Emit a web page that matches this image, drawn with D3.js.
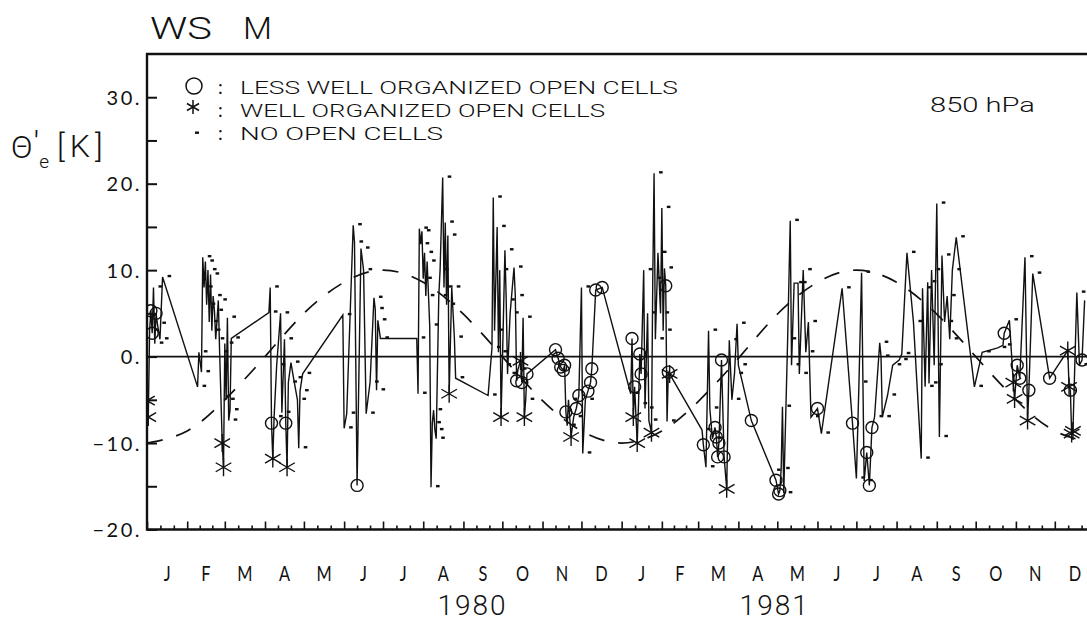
<!DOCTYPE html>
<html>
<head>
<meta charset="utf-8">
<script src="https://cdn.jsdelivr.net/npm/d3@7"></script>
<style>
  body { margin: 0; background: #fff; }
  svg { display: block; }
  text { font-family: Lato, "Liberation Sans", sans-serif; font-weight: 400; fill: #111; }
  text.thin { font-family: Roboto, Lato, sans-serif; font-weight: 300; }
</style>
</head>
<body>
<svg id="chart" width="1087" height="622"></svg>
<script>
// ---- data -------------------------------------------------------------
// days since 1 Jan 1980, theta-e anomaly [K], cell type
// type: "c" = less well organized open cells, "s" = well organized open cells, "n" = no open cells
const obsDay = [
  0, 1, 2, 3, 4, 5, 6, 7, 8, 10, 12, 39, 40, 42, 43, 44, 45, 46, 47, 48,
  49, 50, 51, 52, 53, 55, 56, 57, 58, 59, 60, 61, 62, 63, 64, 65, 94, 95, 96, 97,
  98, 100, 103, 104, 106, 107, 108, 109, 111, 113, 116, 117, 118, 120, 151, 152, 154, 159, 160, 162,
  165, 167, 169, 172, 175, 176, 177, 178, 180, 208, 209, 210, 211, 212, 213, 214, 215, 216, 218, 219,
  220, 221, 222, 223, 225, 226, 228, 229, 230, 231, 232, 233, 235, 237, 238, 263, 266, 267, 268, 270,
  271, 272, 273, 274, 276, 277, 278, 280, 283, 284, 285, 286, 288, 289, 290, 291, 292, 293, 315, 317,
  319, 321, 322, 323, 324, 325, 327, 329, 331, 333, 335, 336, 338, 340, 342, 343, 346, 351, 373, 374,
  375, 376, 378, 379, 380, 381, 383, 384, 386, 387, 389, 390, 391, 392, 394, 396, 397, 398, 399, 400,
  401, 402, 403, 428, 429, 431, 433, 434, 436, 438, 439, 440, 441, 443, 445, 447, 449, 451, 453, 455,
  456, 466, 482, 485, 487, 488, 489, 490, 491, 494, 496, 497, 499, 502, 503, 506, 508, 510, 512, 517,
  520, 536, 544, 547, 549, 551, 553, 555, 557, 559, 561, 565, 566, 567, 571, 575, 580, 582, 586, 591,
  597, 598, 600, 602, 603, 605, 607, 609, 611, 613, 615, 617, 619, 621, 624, 638, 644, 656, 660, 661,
  665, 668, 669, 671, 673, 677, 679, 680, 683, 696, 710, 711, 712, 713, 714, 717, 719, 721, 723
];
const obsValue = [
  -5.1, -7.0, 3.0, 5.3, 2.7, 8.0, 1.5, 5.0, 3.8, 2.0, 9.2, -3.5, 0.5, -1.8, 11.5, 8.0, 11.0, 6.0, 10.0, 4.0,
  9.5, 3.0, 7.0, 5.3, 2.0, 6.5, 0.5, -4.7, -10.0, -12.8, 1.5, -5.0, 4.5, -7.4, -6.2, 2.1, 5.1, 8.0, -7.7, -11.8,
  -7.0, -1.0, 5.0, -6.5, 2.0, -7.7, -12.8, -3.0, -0.7, -2.5, -5.0, -10.6, -4.0, -2.0, 4.8, -8.3, -6.6, 15.2, 13.2, -14.9,
  12.5, 10.0, -6.6, -3.0, 6.8, 5.5, -3.9, 4.2, 2.1, 2.1, -4.3, 14.8, 13.0, 14.5, 9.0, 12.0, 7.0, 11.0, 3.6, -15.1,
  -7.7, -6.2, -8.5, -9.5, 7.0, 10.0, 20.7, 8.0, 15.5, 6.0, 14.0, -4.3, 8.0, 2.2, -2.5, -4.5, 1.0, 18.4, 3.0, 15.0,
  0.5, 10.0, -7.0, -1.0, 12.3, 6.5, -2.0, 5.0, 10.3, 7.0, -2.8, -1.5, -0.5, -3.0, 4.5, -7.0, -5.0, -2.0, 0.8, -0.2,
  -1.2, -1.6, -1.0, -6.4, -8.0, -5.0, -9.3, -7.0, -6.0, -4.5, 8.0, -11.2, -5.0, -4.0, -3.0, -1.4, 7.7, 8.0, -4.3, 2.1,
  -7.0, -3.5, -10.0, -5.5, 0.3, -2.0, 10.0, -6.0, 5.0, -7.4, -8.8, 9.0, 21.2, 2.0, 12.0, 5.0, 17.2, 3.0, 10.2, 8.2,
  -7.5, -1.8, -2.0, -8.5, -10.2, -12.8, 3.0, -6.0, -9.5, -8.2, -9.3, -11.6, -10.0, -0.4, -11.6, -15.3, 1.9, -5.0, -2.0, 3.8,
  -1.0, -7.4, -13.2, -14.3, -15.9, -15.5, -13.0, -5.8, -15.8, 2.0, 15.7, -1.0, 8.5, 8.5, -2.0, 10.0, 0.5, 4.0, -7.0, -6.0,
  -8.9, 7.9, -7.7, -14.1, -3.0, 9.7, -14.4, -11.1, -14.9, -8.2, -7.0, 1.6, 0.0, -7.0, -4.5, -1.0, -0.4, 0.3, 12.0, 4.0,
  -11.8, 7.9, -3.5, 8.6, -3.1, 10.0, -1.0, 17.7, -9.3, 11.7, 4.0, 7.0, 2.0, 10.0, 13.8, -3.5, 0.5, 1.0, 1.3, 2.7,
  4.2, -3.0, -4.9, -1.0, -2.5, 11.5, -7.4, -3.9, 9.6, -2.5, 0.7, -3.5, -3.9, -8.9, -8.6, 7.4, -1.0, -0.4, 6.5
];
const obsType = [
  "s","s","n","c","c","n","n","c","n","n","n","n","n","n","n","n","n","n","n","n",
  "n","n","n","n","n","n","n","n","s","s","n","n","n","n","n","n","n","n","c","s",
  "n","n","n","n","n","c","s","n","n","n","n","n","n","n","n","n","n","n","n","c",
  "n","n","n","n","n","n","n","n","n","n","n","n","n","n","n","n","n","n","n","n",
  "n","n","n","n","n","n","n","n","n","n","n","s","n","n","n","n","n","n","n","n",
  "n","n","s","n","n","n","n","n","n","n","c","n","s","c","n","s","n","c","c","c",
  "c","c","c","c","n","n","s","n","c","c","n","n","n","c","c","c","c","c","n","c",
  "s","c","s","n","c","c","n","n","n","n","s","n","n","n","n","n","n","n","n","c",
  "n","c","s","n","c","n","n","n","n","c","c","c","c","c","c","s","n","n","n","n",
  "n","c","n","c","c","c","n","n","n","n","n","n","n","n","n","n","n","n","n","c",
  "n","n","c","n","n","n","n","c","c","c","n","n","n","n","n","n","n","n","n","n",
  "n","n","n","n","n","n","n","n","n","n","n","n","n","n","n","n","n","n","n","c",
  "n","s","s","c","c","n","s","c","n","c","s","s","c","s","s","n","n","c","n"
];

// mean annual cycle, read at the first day of each month (1980-01 … 1982-01)
const cycleMonth = d3.range(0, 25);
const cycleValue = [
  -10.0, -8.6, -5.0, 0.0, 5.0, 8.6, 10.0, 8.6, 4.9, 0.0, -5.1, -8.6,
  -10.0, -8.6, -5.2, -0.2, 4.9, 8.6, 10.0, 8.6, 4.9, 0.0, -5.0, -8.6, -10.0
];

const monthLabels = ["J","F","M","A","M","J","J","A","S","O","N","D",
                     "J","F","M","A","M","J","J","A","S","O","N","D"];
const yearLabels = ["1980", "1981"];
const yearLabelDay = [251, 484];
const yTickValues = [-20, -15, -10, -5, 0, 5, 10, 15, 20, 25, 30];
const legendLabels = [
  "LESS WELL ORGANIZED OPEN CELLS",
  "WELL ORGANIZED OPEN CELLS",
  "NO OPEN CELLS"
];

// ---- layout ------------------------------------------------------------
const legendTextWidth = [438, 365, 203];
const font = "Lato, 'Liberation Sans', sans-serif";

// ---- scales -----------------------------------------------------------
const t0 = Date.UTC(1980, 0, 1);
const dayToDate = d => new Date(t0 + d * 864e5);
const start = new Date(t0), end = new Date(Date.UTC(1982, 0, 1));

const pLeft = 147, pTop = 54, pBottom = 529.5, pRight = 1095;
const x = d3.scaleUtc().domain([start, end]).range([pLeft, pRight]);
const y = d3.scaleLinear().domain([-20, 35]).range([pBottom, pTop]);

const svg = d3.select("#chart");
const ink = "#111";

const obs = obsDay.map((d, i) => ({ date: dayToDate(d), v: obsValue[i], t: obsType[i] }));
const cycle = cycleMonth.map((m, i) => ({ date: new Date(Date.UTC(1980, m, 1)), v: cycleValue[i] }));

// ---- clip for the plot area --------------------------------------------
svg.append("clipPath").attr("id", "plot")
  .append("rect").attr("x", pLeft).attr("y", pTop).attr("width", pRight - pLeft).attr("height", pBottom - pTop);

const plot = svg.append("g").attr("clip-path", "url(#plot)");

// zero line
plot.append("line")
  .attr("x1", pLeft).attr("x2", pRight)
  .attr("y1", y(0)).attr("y2", y(0))
  .attr("stroke", ink).attr("stroke-width", 1.6);

// annual cycle (dashed)
plot.append("path")
  .datum(cycle)
  .attr("fill", "none").attr("stroke", ink).attr("stroke-width", 1.7)
  .attr("stroke-dasharray", "16,14")
  .attr("d", d3.line().x(d => x(d.date)).y(d => y(d.v)).curve(d3.curveNatural));

// observed series
plot.append("path")
  .datum(obs)
  .attr("fill", "none").attr("stroke", ink).attr("stroke-width", 1.4)
  .attr("d", d3.line().x(d => x(d.date)).y(d => y(d.v)));

// "-" markers, drawn just right of each point
plot.append("g").selectAll("rect")
  .data(obs.filter(d => d.t === "n"))
  .join("rect")
  .attr("x", d => x(d.date) + 5).attr("y", d => y(d.v) - 2.2)
  .attr("width", 3.6).attr("height", 2.4)
  .attr("fill", ink);

// circles
plot.append("g").selectAll("circle")
  .data(obs.filter(d => d.t === "c"))
  .join("circle")
  .attr("cx", d => x(d.date)).attr("cy", d => y(d.v))
  .attr("r", 6).attr("fill", "none").attr("stroke", ink).attr("stroke-width", 1.4);

// asterisks
function asteriskPath(r) {
  const p = d3.path();
  [90, 30, 150].forEach(a => {
    const rad = a * Math.PI / 180;
    p.moveTo(r * Math.cos(rad), -r * Math.sin(rad));
    p.lineTo(-r * Math.cos(rad), r * Math.sin(rad));
  });
  return p.toString();
}
plot.append("g").selectAll("path")
  .data(obs.filter(d => d.t === "s"))
  .join("path")
  .attr("transform", d => `translate(${x(d.date)},${y(d.v)})`)
  .attr("d", asteriskPath(9))
  .attr("fill", "none").attr("stroke", ink).attr("stroke-width", 1.4);

// ---- frame ---------------------------------------------------------------
svg.append("path")
  .attr("d", `M${pRight},${pTop}H${pLeft}V${pBottom}H${pRight}`)
  .attr("fill", "none").attr("stroke", ink).attr("stroke-width", 2.4);

// ---- y axis ----------------------------------------------------------------
const fmtY = d => (d < 0 ? "\u2212" : "") + Math.abs(d) + ".";
const yAxis = svg.append("g")
  .attr("transform", `translate(${pLeft},0)`)
  .call(d3.axisLeft(y).tickValues(yTickValues).tickSizeInner(-10).tickSizeOuter(0).tickPadding(5)
    .tickFormat(d => d % 10 === 0 ? fmtY(d) : ""));
yAxis.select(".domain").remove();
yAxis.selectAll(".tick line").attr("stroke", ink).attr("stroke-width", 2);
yAxis.selectAll(".tick text")
  .attr("font-family", font)
  .attr("font-size", 20).attr("letter-spacing", 2.5).attr("fill", ink).attr("dy", "0.36em");

// ---- x axis ticks ------------------------------------------------------------
const monthStarts = d3.utcMonth.range(start, end);
const minorTicks = [];
monthStarts.forEach(m => {
  const next = d3.utcMonth.offset(m, 1);
  minorTicks.push(new Date(+m + (next - m) / 3), new Date(+m + 2 * (next - m) / 3));
});
const xMajor = svg.append("g").attr("transform", `translate(0,${pBottom})`)
  .call(d3.axisBottom(x).tickValues(monthStarts).tickSizeInner(-8).tickSizeOuter(0).tickFormat(""));
const xMinor = svg.append("g").attr("transform", `translate(0,${pBottom})`)
  .call(d3.axisBottom(x).tickValues(minorTicks).tickSizeInner(-4).tickSizeOuter(0).tickFormat(""));
[xMajor, xMinor].forEach(g => {
  g.select(".domain").remove();
  g.selectAll(".tick line").attr("stroke", ink).attr("stroke-width", 1.6);
});

// month letters, centred in each month (narrow lettering)
svg.append("g").selectAll("text")
  .data(monthStarts)
  .join("text")
  .attr("transform", m => `translate(${x(new Date((+m + +d3.utcMonth.offset(m, 1)) / 2))},581) scale(0.78,1)`)
  .attr("text-anchor", "middle")
  .attr("font-size", 21)
  .text((m, i) => monthLabels[i]);

// years
svg.append("g").selectAll("text")
  .data(yearLabels)
  .join("text")
  .attr("class", "thin")
  .attr("x", (s, i) => x(dayToDate(yearLabelDay[i])))
  .attr("y", 615)
  .attr("text-anchor", "middle")
  .attr("font-size", 28)
  .attr("letter-spacing", 2)
  .text(s => s);

// ---- titles ---------------------------------------------------------------
svg.append("text").attr("class", "thin").attr("x", 150).attr("y", 39).attr("font-size", 31)
  .attr("textLength", 62).attr("lengthAdjust", "spacingAndGlyphs").text("WS");
svg.append("text").attr("class", "thin").attr("x", 243).attr("y", 39).attr("font-size", 31)
  .attr("textLength", 29).attr("lengthAdjust", "spacingAndGlyphs").text("M");

// y label: theta-e prime [K]
const yl = svg.append("text").attr("class", "thin").attr("x", 11).attr("y", 158).attr("font-size", 32);
yl.append("tspan").text("\u0398");
yl.append("tspan").attr("dx", 1).attr("dy", -3).attr("font-size", 34).text("\u2032");
yl.append("tspan").attr("dx", 0).attr("dy", 13).attr("font-size", 19).text("e");
yl.append("tspan").attr("x", 57).attr("y", 157).attr("letter-spacing", 5).text("[K]");

// pressure level
svg.append("text").attr("class", "thin").attr("x", 930).attr("y", 112).attr("font-size", 20)
  .attr("textLength", 105).attr("lengthAdjust", "spacingAndGlyphs").text("850 hPa");

// ---- legend -----------------------------------------------------------------
const lg = svg.append("g");
const rowY = [87, 110, 133];
lg.append("circle").attr("cx", 194).attr("cy", rowY[0] - 1).attr("r", 8)
  .attr("fill", "none").attr("stroke", ink).attr("stroke-width", 1.5);
lg.append("path").attr("transform", `translate(193,${rowY[1] - 3})`).attr("d", asteriskPath(7))
  .attr("fill", "none").attr("stroke", ink).attr("stroke-width", 1.5);
lg.append("rect").attr("x", 195).attr("y", rowY[2] - 1.5).attr("width", 4).attr("height", 2.4).attr("fill", ink);
lg.selectAll("text.colon").data(rowY).join("text").attr("class", "colon")
  .attr("x", 218).attr("y", r => r + 7).attr("font-size", 19).text(":");
lg.selectAll("text.lab").data(legendLabels).join("text").attr("class", "lab thin")
  .attr("x", 240).attr("y", (s, i) => rowY[i] + 7).attr("font-size", 19)
  .attr("textLength", (s, i) => legendTextWidth[i]).attr("lengthAdjust", "spacingAndGlyphs")
  .text(s => s);
</script>
</body>
</html>
